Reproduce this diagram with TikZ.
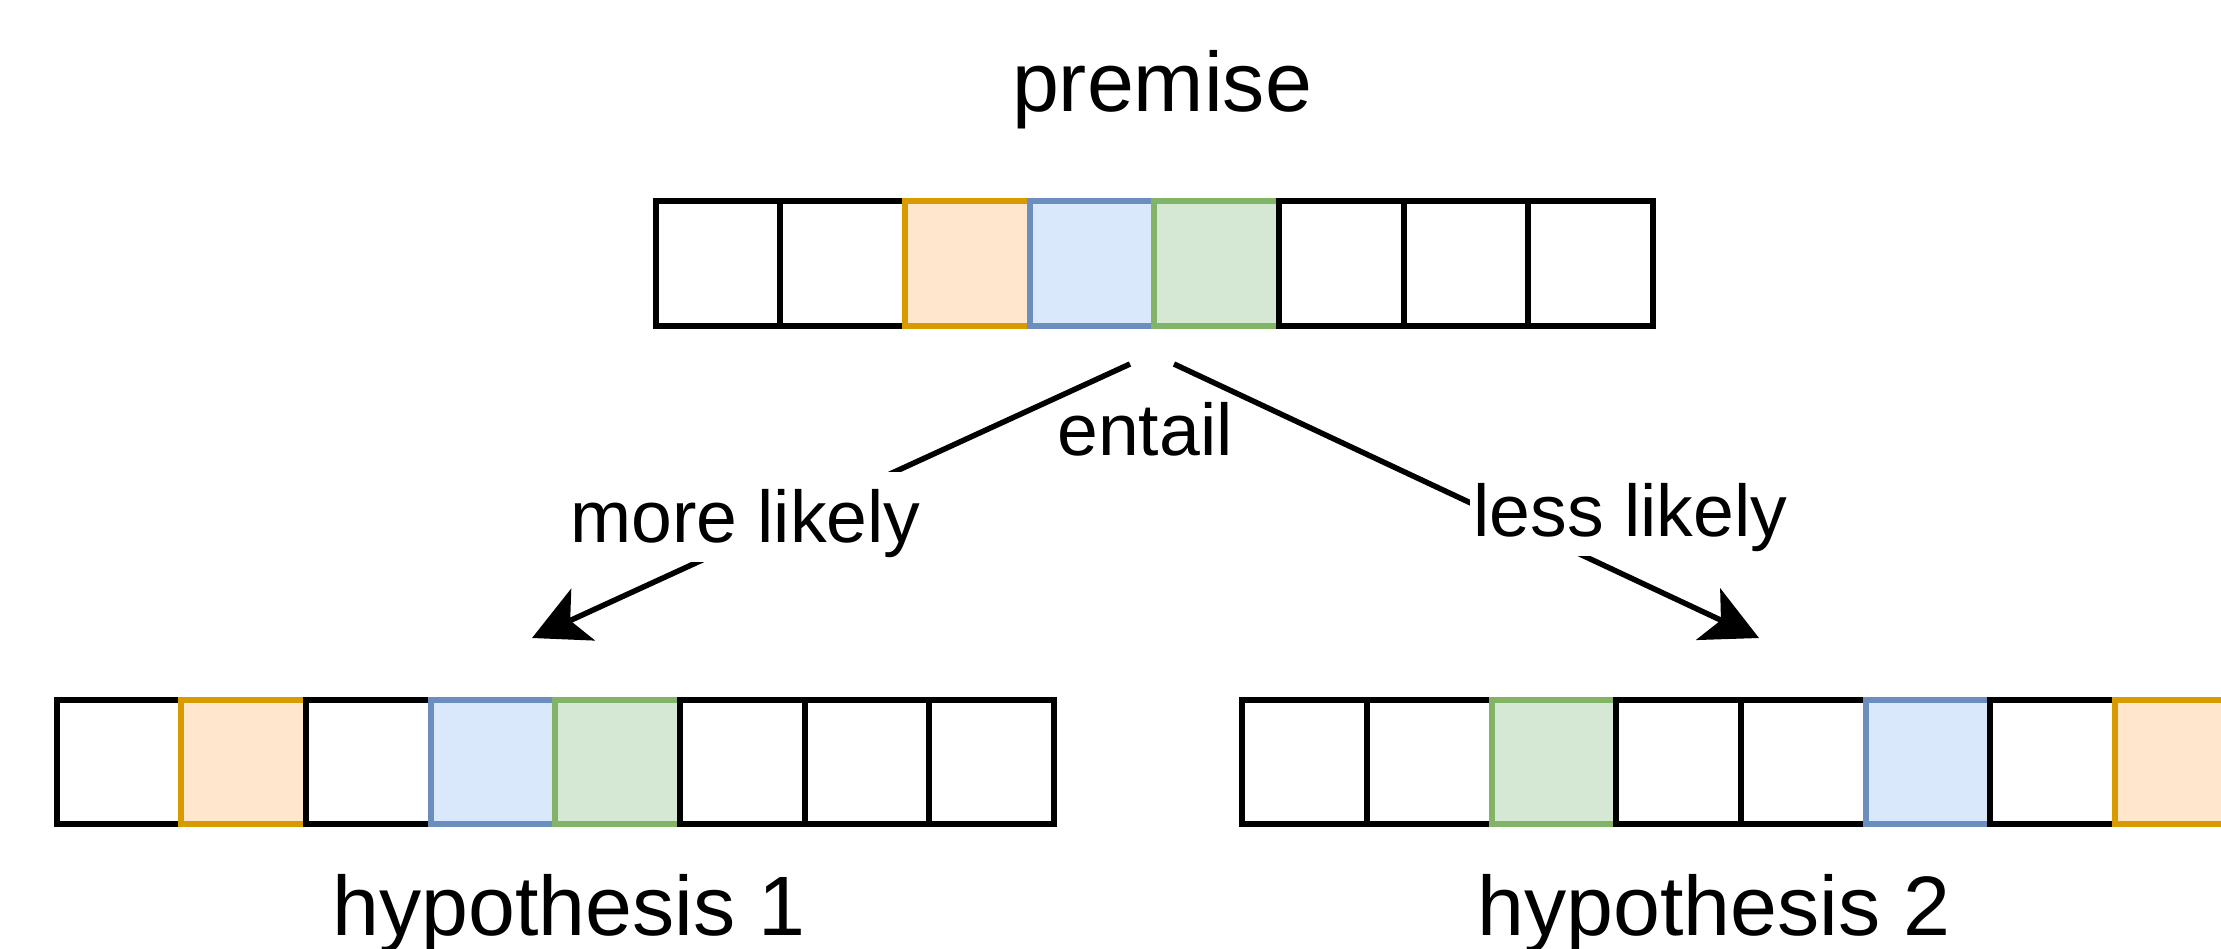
\documentclass[tikz,border=0pt]{standalone}
\usepackage{fontspec}
\setmainfont{Liberation Sans}
\usetikzlibrary{arrows.meta}
\definecolor{orgfill}{HTML}{FFE6CC}
\definecolor{orgline}{HTML}{D79B00}
\definecolor{bluefill}{HTML}{DAE8FC}
\definecolor{blueline}{HTML}{6C8EBF}
\definecolor{grnfill}{HTML}{D5E8D4}
\definecolor{grnline}{HTML}{82B366}

\begin{document}
\begin{tikzpicture}[x=0.3pt,y=0.3pt,yscale=-1,xscale=1,
  cell/.style={draw=black,fill=white,line width=1.8pt,minimum size=37.4pt,inner sep=0pt},
  orgcell/.style={draw=orgline,fill=orgfill},
  bluecell/.style={draw=blueline,fill=bluefill},
  grncell/.style={draw=grnline,fill=grnfill},
  ttl/.style={font=\fontsize{25.3}{30}\selectfont,inner sep=0pt},
  lbl/.style={font=\fontsize{22}{26}\selectfont,fill=white,inner xsep=1pt,inner ysep=0pt,text height=21pt,text depth=6pt},
  arr/.style={line width=1.65pt,-{Stealth[length=16.8pt,width=17pt,inset=4.2pt]}}]
\path[use as bounding box] (0,0) rectangle (2221,949);

%Shape: Square row (premise)
\node[cell] (p1) at (718.1,263.5) {};
\node[cell] (p2) at (842.8,263.5) {};
\node[cell,orgcell] (p3) at (967.4,263.5) {};
\node[cell,bluecell] (p4) at (1092.1,263.5) {};
\node[cell,grncell] (p5) at (1216.7,263.5) {};
\node[cell] (p6) at (1341.4,263.5) {};
\node[cell] (p7) at (1466.0,263.5) {};
\node[cell] (p8) at (1590.7,263.5) {};

%Shape: Square row (hypothesis 1)
\node[cell] (a1) at (119.0,762.1) {};
\node[cell,orgcell] (a2) at (243.7,762.1) {};
\node[cell] (a3) at (368.3,762.1) {};
\node[cell,bluecell] (a4) at (493.0,762.1) {};
\node[cell,grncell] (a5) at (617.6,762.1) {};
\node[cell] (a6) at (742.3,762.1) {};
\node[cell] (a7) at (866.9,762.1) {};
\node[cell] (a8) at (991.6,762.1) {};

%Shape: Square row (hypothesis 2)
\node[cell] (b1) at (1304.6,762.1) {};
\node[cell] (b2) at (1429.3,762.1) {};
\node[cell,grncell] (b3) at (1553.9,762.1) {};
\node[cell] (b4) at (1678.6,762.1) {};
\node[cell] (b5) at (1803.2,762.1) {};
\node[cell,bluecell] (b6) at (1927.9,762.1) {};
\node[cell] (b7) at (2052.5,762.1) {};
\node[cell,orgcell] (b8) at (2177.2,762.1) {};

%Straight Lines
\coordinate (ls) at (1130,364);
\coordinate (lt) at (532,638);
\draw[arr] (ls) -- (lt);
%Straight Lines
\coordinate (rs) at (1174,364);
\coordinate (rt) at (1759,638);
\draw[arr] (rs) -- (rt);

% Text Node
\node[ttl,anchor=base] (prem) at (1162,111) {premise};
% Text Node
\node[ttl,anchor=base] (hyp1) at (569,935) {hypothesis 1};
% Text Node
\node[ttl,anchor=base] (hyp2) at (1714,935) {hypothesis 2};
% Text Node
\node[lbl,fill=none,anchor=base] (ent) at (1145,455) {entail};
% Text Node
\node[lbl,anchor=base] (more) at (745.5,542.3) {more likely};
% Text Node
\node[lbl,anchor=base] (less) at (1630.5,536) {less likely};

\end{tikzpicture}
\end{document}
